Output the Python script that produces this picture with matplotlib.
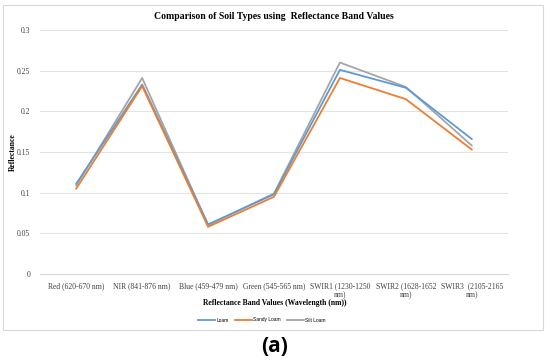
import matplotlib
matplotlib.use("Agg")
from matplotlib import pyplot as plt
from matplotlib import patches

bands = ["Red (620-670 nm)", "NIR (841-876 nm)", "Blue (459-479 nm)",
         "Green (545-565 nm)", "SWIR1 (1230-1250\nnm)",
         "SWIR2 (1628-1652\nnm)", "SWIR3  (2105-2165\nnm)"]
loam = [0.111, 0.233, 0.061, 0.098, 0.251, 0.229, 0.166]
sandy_loam = [0.105, 0.231, 0.058, 0.095, 0.241, 0.215, 0.153]
silt_loam = [0.109, 0.241, 0.060, 0.099, 0.260, 0.230, 0.158]
yticks = [0, 0.05, 0.1, 0.15, 0.2, 0.25, 0.3]
ytick_labels = ["0", "0.05", "0.1", "0.15", "0.2", "0.25", "0.3"]

serif = "Liberation Serif"
fig = plt.figure(figsize=(5.5, 3.63), dpi=100)
fig.patch.set_facecolor("white")

# light frame around the chart, as in the exported spreadsheet picture
fig.add_artist(patches.Rectangle((3 / 550, 1 - 330 / 363), 540 / 550, 325 / 363,
                                 transform=fig.transFigure, fill=False,
                                 edgecolor="#d9d9d9", linewidth=0.8))

ax = fig.add_axes([40 / 550, 1 - 274 / 363, 468 / 550, 244 / 363])
x = range(len(bands))
ax.plot(x, silt_loam, color="#a5a5a5", linewidth=1.3, label="Silt Loam", zorder=3)
ax.plot(x, loam, color="#5b9bd5", linewidth=1.3, label="Loam", zorder=4)
ax.plot(x, sandy_loam, color="#ed7d31", linewidth=1.3, label="Sandy Loam", zorder=5)

ax.set_xlim(-0.55, len(bands) - 0.45)
ax.set_ylim(0, 0.3)
ax.set_yticks(yticks)
ax.set_yticklabels(ytick_labels, fontfamily=serif, fontsize=5.5, color="#404040")
ax.set_xticks(list(x))
ax.set_xticklabels(bands, fontfamily=serif, fontsize=5.5, color="#404040",
                   linespacing=1.2)
ax.tick_params(axis="y", length=0, pad=7)
ax.tick_params(axis="x", length=0, pad=6)
ax.grid(axis="y", color="#e3e3e3", linewidth=0.8)
ax.set_axisbelow(True)
for s in ["top", "right", "left"]:
    ax.spines[s].set_visible(False)
ax.spines["bottom"].set_color("#d9d9d9")
ax.spines["bottom"].set_linewidth(0.8)

ax.set_title("Comparison of Soil Types using  Reflectance Band Values",
             fontfamily=serif, fontsize=7, fontweight="bold", pad=8)
fig.text(13 / 550, 1 - 152 / 363, "Reflectance", rotation=90, ha="center",
         va="center", fontfamily=serif, fontsize=5.5, fontweight="bold")
fig.text(275 / 550, 1 - 303 / 363, "Reflectance Band Values (Wavelength (nm))",
         ha="center", va="center", fontfamily=serif, fontsize=5.5,
         fontweight="bold")

handles, labels = ax.get_legend_handles_labels()
order = [1, 2, 0]
fig.legend([handles[i] for i in order], [labels[i] for i in order],
           loc="center", bbox_to_anchor=(262 / 550, 1 - 320 / 363), ncol=3,
           frameon=False, prop={"family": "Liberation Sans", "size": 3.5},
           handlelength=3.5, handletextpad=0.3, columnspacing=1.2)

fig.text(275 / 550, 1 - 347 / 363, "(a)", ha="center", va="center",
         fontfamily="Open Sans", fontsize=15, fontweight="bold")

fig.savefig("out.png", dpi=100)
